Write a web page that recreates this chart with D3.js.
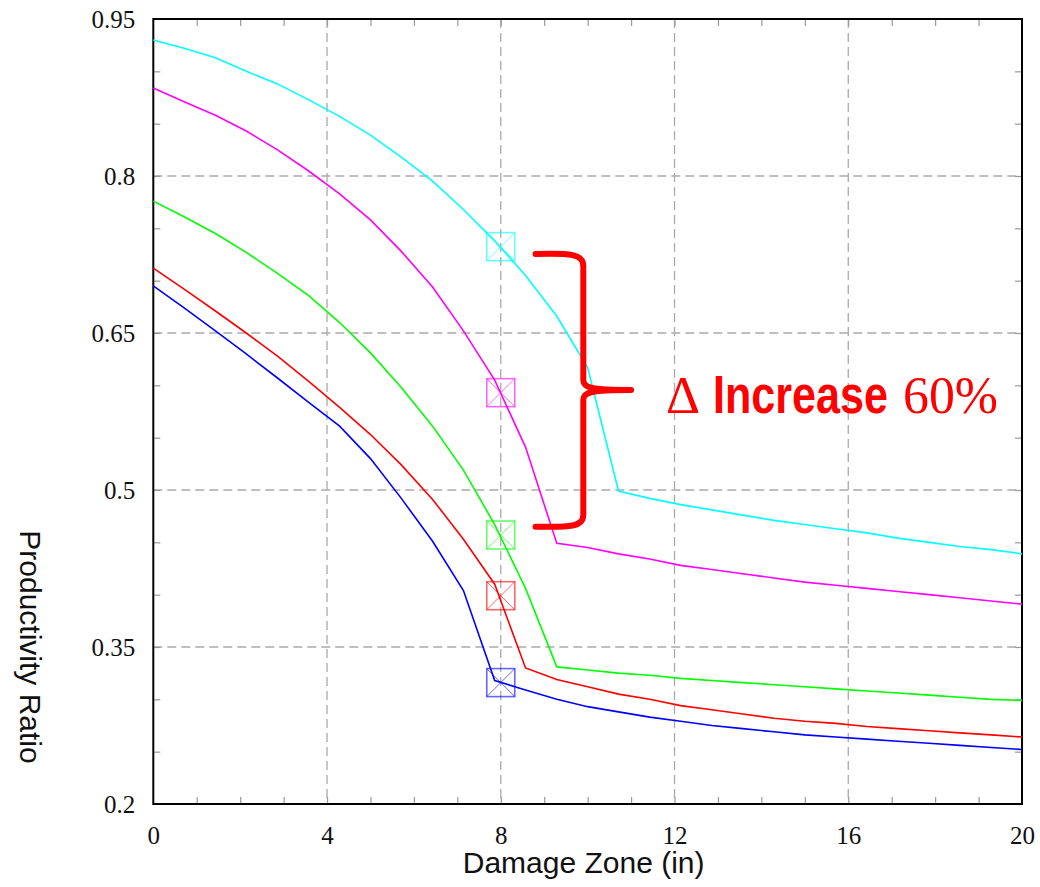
<!DOCTYPE html>
<html>
<head>
<meta charset="utf-8">
<script src="https://cdn.jsdelivr.net/npm/d3@7"></script>
<style>
body { margin: 0; background: #fff; }
</style>
</head>
<body>
<svg id="chart" width="1040" height="887"></svg>
<script>
// damage zone (in), shared by every curve
var xVals = [0, 0.71, 1.43, 2.14, 2.86, 3.57, 4.29, 5, 5.71, 6.43, 7.14, 7.86, 8.57, 9.29, 10,
             10.71, 11.43, 12.14, 12.86, 13.57, 14.29, 15, 15.71, 16.43, 17.14, 17.86, 18.57, 19.29, 20];

var cyanVals = [0.930, 0.922, 0.913, 0.900, 0.888, 0.873, 0.857, 0.839, 0.818, 0.795, 0.768, 0.738, 0.705, 0.666, 0.617,
                0.499, 0.492, 0.486, 0.481, 0.476, 0.471, 0.467, 0.463, 0.459, 0.454, 0.450, 0.446, 0.443, 0.439];
var magentaVals = [0.884, 0.871, 0.858, 0.843, 0.825, 0.805, 0.783, 0.758, 0.728, 0.694, 0.652, 0.605, 0.541, 0.449, 0.445,
                   0.439, 0.434, 0.428, 0.424, 0.420, 0.416, 0.412, 0.409, 0.406, 0.403, 0.400, 0.397, 0.394, 0.391];
var greenVals = [0.776, 0.761, 0.745, 0.727, 0.707, 0.686, 0.660, 0.631, 0.598, 0.561, 0.519, 0.467, 0.406, 0.331, 0.328,
                 0.325, 0.323, 0.320, 0.318, 0.316, 0.314, 0.312, 0.310, 0.308, 0.306, 0.304, 0.302, 0.300, 0.299];
var redVals = [0.712, 0.692, 0.671, 0.650, 0.628, 0.604, 0.579, 0.553, 0.524, 0.491, 0.453, 0.410, 0.330, 0.319, 0.312,
               0.305, 0.300, 0.294, 0.290, 0.286, 0.282, 0.279, 0.277, 0.274, 0.272, 0.270, 0.268, 0.266, 0.264];
var blueVals = [0.695, 0.674, 0.652, 0.630, 0.607, 0.584, 0.561, 0.530, 0.492, 0.451, 0.404, 0.318, 0.309, 0.300, 0.293,
                0.288, 0.283, 0.279, 0.275, 0.272, 0.269, 0.266, 0.264, 0.262, 0.260, 0.258, 0.256, 0.254, 0.252];

// boxed-X markers at 8 in
var markerX = 8;
var markerVals = [0.7325, 0.593, 0.457, 0.399, 0.316];

var colors = ["#00ffff", "#ff00ff", "#00ff00", "#ff0000", "#0000ff"];
var xTicks = [0, 4, 8, 12, 16, 20];
var yTicks = [0.2, 0.35, 0.5, 0.65, 0.8, 0.95];

// brace annotation, in data units
var braceX = [8.8, 9.9, 11.0];        // arm end, spine, tip
var braceY = [0.7255, 0.5955, 0.465]; // top, middle, bottom

var series = [cyanVals, magentaVals, greenVals, redVals, blueVals];

var svg = d3.select("#chart");
var pLeft = 153.3, pRight = 1022, pTop = 19, pBottom = 804;

var x = d3.scaleLinear().domain([0, 20]).range([pLeft, pRight]);
var y = d3.scaleLinear().domain([0.2, 0.95]).range([pBottom, pTop]);

// grid
var grid = svg.append("g").attr("stroke", "#aaaaaa").attr("stroke-width", 1.3).attr("stroke-dasharray", "9,5");
grid.selectAll(".gx").data(xTicks.slice(1, -1)).enter().append("line")
  .attr("x1", d => x(d)).attr("x2", d => x(d)).attr("y1", pTop).attr("y2", pBottom);
grid.selectAll(".gy").data(yTicks.slice(1, -1)).enter().append("line")
  .attr("y1", d => y(d)).attr("y2", d => y(d)).attr("x1", pLeft).attr("x2", pRight);

// minor ticks, all four sides, pointing inward
var minorX = d3.range(1, 20);
var minorY = d3.range(0.25, 0.95, 0.05);
function minor(axis, tr) {
  var g = svg.append("g").attr("transform", tr).call(axis);
  g.select(".domain").remove();
  g.selectAll(".tick line").attr("stroke", "#999").attr("stroke-width", 1.2);
}
minor(d3.axisBottom(x).tickValues(minorX).tickSize(-7).tickFormat(""), "translate(0," + pBottom + ")");
minor(d3.axisTop(x).tickValues(minorX).tickSize(-7).tickFormat(""), "translate(0," + pTop + ")");
minor(d3.axisLeft(y).tickValues(minorY).tickSize(-7).tickFormat(""), "translate(" + pLeft + ",0)");
minor(d3.axisRight(y).tickValues(minorY).tickSize(-7).tickFormat(""), "translate(" + pRight + ",0)");

// tick labels
var xAxis = svg.append("g").attr("transform", "translate(0," + pBottom + ")")
  .call(d3.axisBottom(x).tickValues(xTicks).tickSize(0).tickPadding(22).tickFormat(d3.format("d")));
var yAxis = svg.append("g").attr("transform", "translate(" + pLeft + ",0)")
  .call(d3.axisLeft(y).tickValues(yTicks).tickSize(0).tickPadding(18).tickFormat(d => String(d)));
[xAxis, yAxis].forEach(function (g) {
  g.select(".domain").remove();
  g.selectAll("text").attr("font-family", "'Liberation Serif', serif").attr("font-size", 25).attr("fill", "#111");
});

// frame
svg.append("rect").attr("x", pLeft).attr("y", pTop).attr("width", pRight - pLeft).attr("height", pBottom - pTop)
  .attr("fill", "none").attr("stroke", "#000").attr("stroke-width", 2);

// curves
var line = d3.line().x((d, i) => x(xVals[i])).y(d => y(d));
svg.selectAll(".curve").data(series).enter().append("path")
  .attr("d", line).attr("fill", "none")
  .attr("stroke", (d, i) => colors[i]).attr("stroke-width", 1.6);

// markers
var s = 14;
var mk = svg.selectAll(".mk").data(markerVals).enter().append("g")
  .attr("transform", d => "translate(" + x(markerX) + "," + y(d) + ")")
  .attr("stroke", (d, i) => colors[i]).attr("stroke-opacity", 0.6).attr("fill", "none");
mk.append("rect").attr("x", -s).attr("y", -s).attr("width", 2 * s).attr("height", 2 * s).attr("stroke-width", 1.6);
mk.append("path").attr("d", "M" + (-s) + "," + (-s) + "L" + s + "," + s + "M" + s + "," + (-s) + "L" + (-s) + "," + s)
  .attr("stroke-width", 1);

// curly brace
var x0 = x(braceX[0]), x1 = x(braceX[1]), xt = x(braceX[2]);
var yT = y(braceY[0]), yM = y(braceY[1]), yB = y(braceY[2]);
var brace = d3.path();
brace.moveTo(x0, yT);
brace.bezierCurveTo(x0 + 35, yT - 1, x1, yT, x1, yT + 12);
brace.lineTo(x1, yM - 10);
brace.bezierCurveTo(x1, yM - 2, x1 + 8, yM, xt, yM);
brace.moveTo(xt, yM);
brace.bezierCurveTo(x1 + 8, yM, x1, yM + 2, x1, yM + 10);
brace.lineTo(x1, yB - 12);
brace.bezierCurveTo(x1, yB, x0 + 35, yB + 1, x0, yB);
svg.append("path").attr("d", brace.toString()).attr("fill", "none")
  .attr("stroke", "#ff0000").attr("stroke-width", 6).attr("stroke-linecap", "round").attr("stroke-linejoin", "round");

// annotation text
var noteY = 413;
svg.append("text").attr("x", 666).attr("y", noteY).attr("fill", "#ff0000").attr("font-size", 53)
  .attr("font-family", "'Liberation Serif', serif").text("\u0394");
svg.append("text").attr("x", 713).attr("y", noteY).attr("fill", "#ff0000").attr("font-size", 53)
  .attr("font-family", "'Liberation Sans Narrow', 'Liberation Sans', sans-serif").attr("font-weight", "bold")
  .attr("textLength", 175).attr("lengthAdjust", "spacingAndGlyphs").text("Increase");
svg.append("text").attr("x", 903).attr("y", noteY).attr("fill", "#ff0000").attr("font-size", 53)
  .attr("font-family", "'Liberation Serif', serif").attr("textLength", 95).attr("lengthAdjust", "spacingAndGlyphs")
  .text("60%");

// axis titles
svg.append("text").attr("x", (pLeft + pRight) / 2 - 4).attr("y", 873).attr("text-anchor", "middle")
  .attr("font-family", "'Liberation Sans', Arial, sans-serif").attr("font-size", 30).attr("fill", "#111")
  .text("Damage Zone (in)");
svg.append("text").attr("transform", "translate(20,647) rotate(90)").attr("text-anchor", "middle")
  .attr("font-family", "'Liberation Sans', Arial, sans-serif").attr("font-size", 30).attr("fill", "#111")
  .text("Productivity Ratio");
</script>
</body>
</html>
